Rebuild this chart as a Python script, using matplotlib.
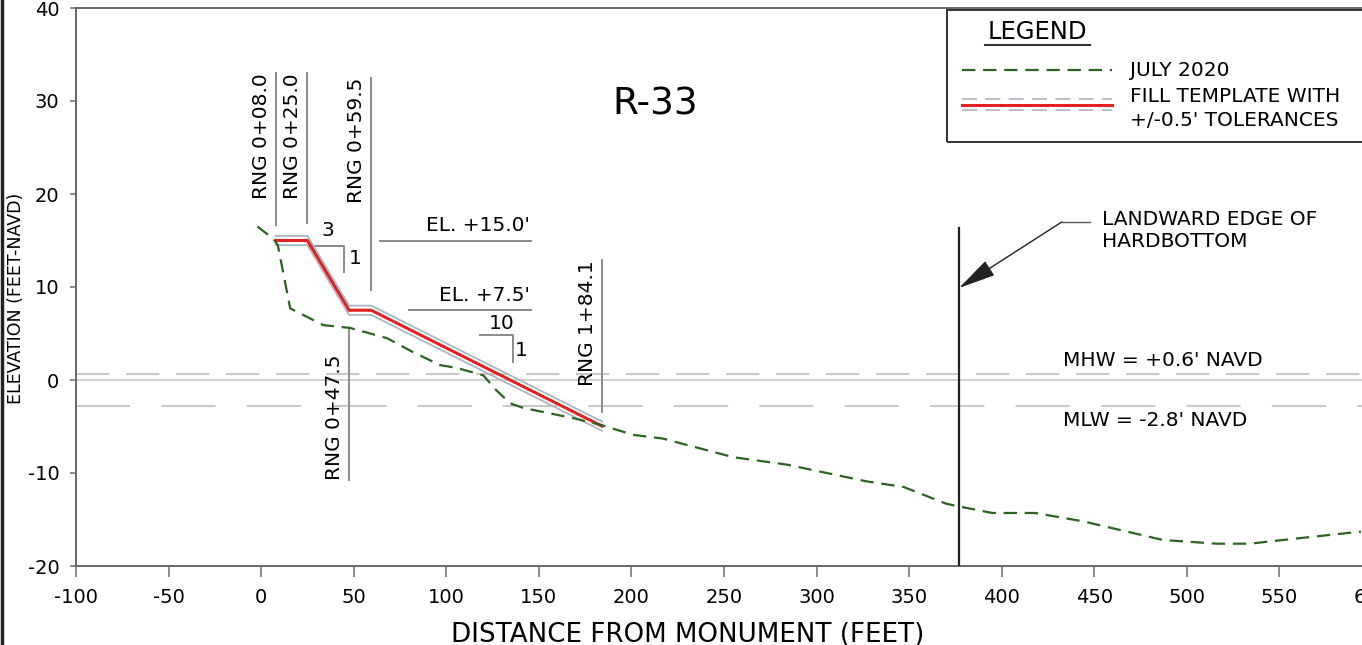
import numpy as np
import matplotlib.pyplot as plt
from matplotlib.patches import Rectangle
from matplotlib.lines import Line2D

# ------------------------------------------------------------
# data
# ------------------------------------------------------------
survey_x = [-2, 6.5, 9, 15.7, 33.6, 48, 68, 82, 96.7, 105.7, 120, 127, 134.5, 141.5,
            168.5, 183, 201, 217, 255, 284, 327, 347, 370, 377, 395, 418, 444, 487,
            516, 534, 552, 594]
survey_y = [16.5, 15.2, 14.5, 7.7, 5.9, 5.6, 4.5, 3.0, 1.6, 1.3, 0.5, -1.1, -2.5, -3.0,
            -4.1, -4.8, -5.9, -6.3, -8.3, -9.1, -10.9, -11.5, -13.3, -13.6, -14.3, -14.3,
            -15.2, -17.2, -17.6, -17.6, -17.2, -16.3]

template_x = [8.0, 25.0, 47.5, 59.5, 184.1]
template_y = [15.0, 15.0, 7.5, 7.5, -4.96]
tolerance = 0.5

mhw = 0.6
mlw = -2.8
hardbottom_x = 377

rng_labels = ["RNG 0+08.0", "RNG 0+25.0", "RNG 0+59.5", "RNG 0+47.5", "RNG 1+84.1"]
rng_x = [8.0, 25.0, 59.5, 47.5, 184.1]
rng_top = [33.0, 33.0, 32.5, 5.5, 12.9]
rng_bot = [16.7, 16.9, 9.7, -10.8, -3.4]
rng_anchor = ["top", "top", "top", "bottom", "top"]

green = "#2b6320"
red = "#e02222"
tolgray = "#aab6c2"
gray = "#8a8a8a"

plt.rcParams['font.family'] = ['DejaVu Sans']
plt.rcParams['axes.unicode_minus'] = False

fs = 14.5  # note text size

fig = plt.figure(figsize=(13.62, 6.45), dpi=100)
W, H = 1362, 645
ax = fig.add_axes([76 / W, 79 / H, 1296 / W, 558 / H])
ax.set_xlim(-100, 600)
ax.set_ylim(-20, 40)

# ------------------------------------------------------------
# tide lines
# ------------------------------------------------------------
ax.axhline(0, color="#c8c8c8", lw=1.2, zorder=1)
ax.axhline(mhw, color="#c8c8c8", lw=1.5, ls=(0, (16, 8)), zorder=1)
ax.axhline(mlw, color="#c8c8c8", lw=1.5, ls=(0, (26, 15)), zorder=1)
ax.text(433, 2.15, "MHW = +0.6' NAVD", fontsize=fs, ha="left", va="center")
ax.text(433, -4.4, "MLW = -2.8' NAVD", fontsize=fs, ha="left", va="center")

# ------------------------------------------------------------
# profiles
# ------------------------------------------------------------
tx = np.array(template_x)
ty = np.array(template_y)
ax.plot(tx, ty + tolerance, color=tolgray, lw=1.3, zorder=3)
ax.plot(tx, ty - tolerance, color=tolgray, lw=1.3, zorder=3)
ax.plot(tx, ty, color=red, lw=2.2, zorder=4)
ax.plot(survey_x, survey_y, color=green, lw=1.6, ls=(0, (6, 3.5)), zorder=5)

# ------------------------------------------------------------
# range stations
# ------------------------------------------------------------
for lab, x, y0, y1, anc in zip(rng_labels, rng_x, rng_bot, rng_top, rng_anchor):
    ax.plot([x, x], [y0, y1], color=gray, lw=1.4, zorder=2)
    if anc == "top":
        ax.text(x - 2.8, y1, lab, rotation=90, fontsize=fs, ha="right", va="top")
    else:
        ax.text(x - 2.8, y0, lab, rotation=90, fontsize=fs, ha="right", va="bottom")

# elevation callouts
ax.plot([64, 146], [15, 15], color=gray, lw=1.4)
ax.text(145, 15.6, "EL. +15.0'", fontsize=fs, ha="right", va="bottom")
ax.plot([80, 146], [7.5, 7.5], color=gray, lw=1.4)
ax.text(145, 8.1, "EL. +7.5'", fontsize=fs, ha="right", va="bottom")

# slope markers
ax.plot([26.5, 44.5, 44.5], [14.4, 14.4, 11.6], color=gray, lw=1.4)
ax.text(36, 16.1, "3", fontsize=fs, ha="center", va="center")
ax.text(51, 13.1, "1", fontsize=fs, ha="center", va="center")
ax.plot([118, 136, 136], [4.8, 4.8, 1.9], color=gray, lw=1.4)
ax.text(130, 6.1, "10", fontsize=fs, ha="center", va="center")
ax.text(140.5, 3.2, "1", fontsize=fs, ha="center", va="center")

ax.text(213, 29.6, "R-33", fontsize=27, ha="center", va="center")

# hardbottom
ax.plot([hardbottom_x, hardbottom_x], [-20, 16.3], color="#222222", lw=1.6, zorder=6)
ax.plot([447.5, 432.5], [17.0, 17.0], color="#555555", lw=1.0)
ax.annotate("", xy=(hardbottom_x, 9.9), xytext=(432.5, 17.0),
            arrowprops=dict(arrowstyle="-|>,head_length=1.3,head_width=0.3",
                            color="#222222", lw=1.0, mutation_scale=18,
                            shrinkA=0, shrinkB=0))
ax.text(454, 16.1, "LANDWARD EDGE OF\nHARDBOTTOM", fontsize=fs, ha="left", va="center",
        linespacing=1.2)

# ------------------------------------------------------------
# legend box
# ------------------------------------------------------------
def fx(px):
    return px / W

def fy(py):
    return 1 - py / H

fig.patches.append(Rectangle((fx(947), fy(142)), fx(430), fy(10) - fy(142),
                             transform=fig.transFigure, fill=False,
                             ec="#333333", lw=1.4, zorder=10))
fig.text(fx(1037), fy(32), "LEGEND", fontsize=17.5, ha="center", va="center")
fig.lines.append(Line2D([fx(985), fx(1090)], [fy(45), fy(45)], transform=fig.transFigure,
                        color="#333333", lw=1.5))
fig.lines.append(Line2D([fx(962), fx(1112)], [fy(70), fy(70)], transform=fig.transFigure,
                        color=green, lw=1.6, ls=(0, (6, 3.5))))
fig.lines.append(Line2D([fx(962), fx(1112)], [fy(99), fy(99)], transform=fig.transFigure,
                        color=tolgray, lw=1.2, ls=(0, (9, 5))))
fig.lines.append(Line2D([fx(962), fx(1112)], [fy(104.5), fy(104.5)],
                        transform=fig.transFigure, color=red, lw=2.2))
fig.lines.append(Line2D([fx(962), fx(1112)], [fy(110), fy(110)], transform=fig.transFigure,
                        color=tolgray, lw=1.2, ls=(0, (9, 5))))
fig.text(fx(1130), fy(71), "JULY 2020", fontsize=fs, ha="left", va="center")
fig.text(fx(1130), fy(96), "FILL TEMPLATE WITH", fontsize=fs, ha="left", va="center")
fig.text(fx(1130), fy(120), "+/-0.5' TOLERANCES", fontsize=fs, ha="left", va="center")

# left border of the sheet
fig.lines.append(Line2D([0.0015, 0.0015], [0, 1], transform=fig.transFigure,
                        color="#222222", lw=2.5))

# ------------------------------------------------------------
# axes styling
# ------------------------------------------------------------
ax.set_xticks(np.arange(-100, 601, 50))
ax.set_yticks(np.arange(-20, 41, 10))
for s in ["left", "bottom", "top"]:
    ax.spines[s].set_color("#666666")
    ax.spines[s].set_linewidth(1.4)
ax.spines["right"].set_visible(False)
ax.tick_params(axis="x", direction="out", length=8, width=1.2, color="#777777",
               labelsize=14, pad=8)
ax.tick_params(axis="y", direction="out", length=4, width=1.2, color="#777777",
               labelsize=14, pad=8)

ax.set_xlabel("DISTANCE FROM MONUMENT (FEET)", fontsize=18.8)
ax.xaxis.set_label_coords((688 - 76) / 1296, -0.100)
ax.set_ylabel("ELEVATION (FEET-NAVD)", fontsize=12.5)
ax.yaxis.set_label_coords(-0.039, 0.48)

plt.savefig("out.png", dpi=100)
